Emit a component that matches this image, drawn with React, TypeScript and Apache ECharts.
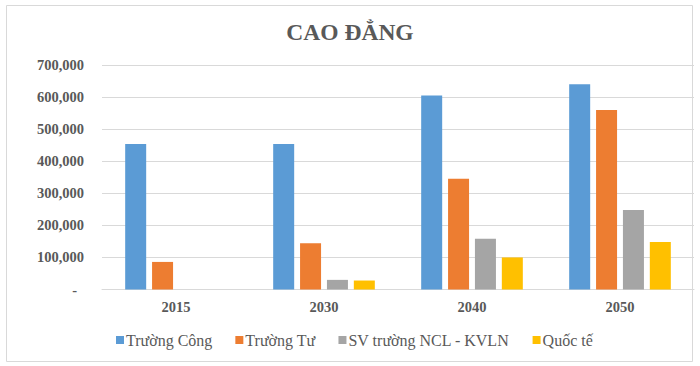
import React, { useEffect, useRef } from "react";
import * as echarts from "echarts";

const categories = ["2015", "2030", "2040", "2050"];
const seriesNames = ["Trường Công", "Trường Tư", "SV trường NCL - KVLN", "Quốc tế"];
const truongCong = [454000, 454000, 605000, 640000];
const truongTu = [86000, 144000, 345000, 560000];
const svNCL = [0, 30000, 158000, 248000];
const quocTe = [0, 28000, 100000, 148000];
const colors = ["#5B9BD5", "#ED7D31", "#A5A5A5", "#FFC000"];

const FONT = "Liberation Serif";

export default function App() {
  const ref = useRef<HTMLDivElement>(null);
  useEffect(() => {
    if (!ref.current) return;
    const chart = echarts.init(ref.current, null, { renderer: "svg" });
    const values = [truongCong, truongTu, svNCL, quocTe];
    chart.setOption({
      animation: false,
      backgroundColor: "#ffffff",
      color: colors,
      textStyle: { fontFamily: FONT },
      title: {
        text: "CAO ĐẲNG",
        left: "center",
        top: 15,
        textStyle: { fontFamily: FONT, fontSize: 23.5, fontWeight: "bold", color: "#595959" },
      },
      graphic: [
        {
          type: "rect",
          shape: { x: 6.5, y: 5.5, width: 686, height: 356 },
          style: { fill: "none", stroke: "#d9d9d9", lineWidth: 1 },
          silent: true,
        },
      ],
      legend: {
        left: 111,
        top: 327,
        itemWidth: 8,
        itemHeight: 8,
        itemGap: 23,
        icon: "rect",
        data: seriesNames,
        textStyle: { fontFamily: FONT, fontSize: 16, color: "#595959", padding: [0, 0, 0, -3] },
      },
      grid: { left: 102, right: 6, top: 65, height: 224.5, containLabel: false },
      xAxis: {
        type: "category",
        data: categories,
        axisLine: { lineStyle: { color: "#d9d9d9" } },
        axisTick: { show: false },
        axisLabel: { fontFamily: FONT, fontSize: 14.5, fontWeight: "bold", color: "#595959", margin: 10 },
      },
      yAxis: {
        type: "value",
        min: 0,
        max: 700000,
        interval: 100000,
        axisLine: { show: false },
        axisTick: { show: false },
        splitLine: { lineStyle: { color: "#d9d9d9" } },
        axisLabel: {
          fontFamily: FONT,
          fontSize: 14.5,
          fontWeight: "bold",
          color: "#595959",
          margin: 18,
          formatter: (v: number) => (v === 0 ? "{z|-}" : v.toLocaleString("en-US")),
          rich: {
            z: { fontFamily: FONT, fontSize: 14.5, fontWeight: "bold", color: "#595959", padding: [0, 7, 0, 0] },
          },
        },
      },
      series: seriesNames.map((name, i) => ({
        name,
        type: "bar",
        data: values[i],
        barWidth: 21,
        barGap: "28%",
      })),
    });
    return () => chart.dispose();
  }, []);
  return (
    <div
      ref={ref}
      style={{ position: "fixed", left: 0, top: 0, width: 700, height: 366 }}
    />
  );
}
